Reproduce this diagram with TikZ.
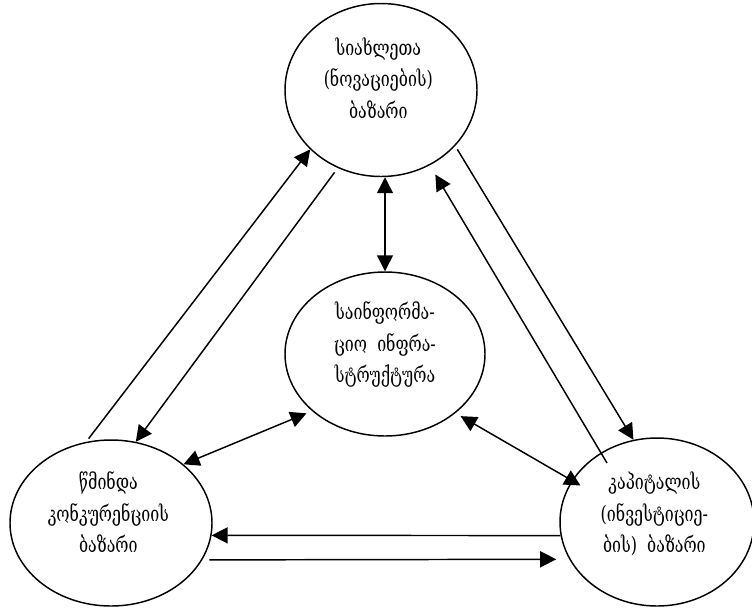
\documentclass[tikz,border=0pt]{standalone}
\usepackage{fontspec}
\setmainfont[FakeStretch=0.75]{DejaVu Serif}
\usetikzlibrary{shapes.geometric,arrows.meta}
\begin{document}
\begin{tikzpicture}[x=0.75pt,y=-0.75pt,
  market/.style={draw, line width=1.1pt, ellipse, inner sep=0pt},
  mtext/.style={align=center, inner sep=0pt, font=\fontsize{16}{23.5}\selectfont},
  arr/.style={line width=1.1pt, -{Triangle[length=12pt,width=12pt]}},
  dbl/.style={line width=1.1pt, {Triangle[length=12pt,width=12pt]}-{Triangle[length=12pt,width=12pt]}}]
\useasboundingbox (0,0) rectangle (752,608);

% the four markets
\node[market, minimum width=144pt, minimum height=129.75pt] (T) at (381,90) {};
\node[market, minimum width=150pt, minimum height=123pt] (C) at (385,354) {};
\node[market, minimum width=151.5pt, minimum height=124.5pt] (BL) at (111,523) {};
\node[market, minimum width=145.5pt, minimum height=126pt] (BR) at (657,522) {};

% their labels
\node[mtext] (Tt) at ([xshift=-2pt,yshift=9pt]T.center) {სიახლეთა\\(ნოვაციების)\\ბაზარი};
\node[mtext] (Ct) at ([yshift=7pt]C.center) {საინფორმა-\\ციო\ \ ინფრა-\\სტრუქტურა};
\node[mtext] (BLt) at ([xshift=-2pt,yshift=8pt]BL.center) {წმინდა\\კონკურენციის\\ბაზარი};
\node[mtext] (BRt) at ([xshift=-2pt,yshift=6pt]BR.center) {კაპიტალის\\(ინვესტიციე-\\ბის)\ \ ბაზარი};

% flows between the markets
\draw[arr, shorten <=3pt] (BL.107) -- (T.220);
\draw[arr, shorten <=4pt] (T.241) -- (BL.73);
\draw[dbl] (C.north |- T.south) -- (C.north);
\draw[arr, shorten <=3pt] (T.323) -- (BR.106);
\draw[arr, shorten <=-9pt, shorten >=8pt] (BR.129) -- (T.303);
\draw[dbl, shorten >=4.5pt] (BL.39) -- (C.218);
\draw[dbl, shorten <=4.5pt, shorten >=-7.5pt] (C.320) -- (BR.154);
\draw[arr] (BR.188) -- (BL.353);
\draw[arr, shorten <=5.25pt, shorten >=9.75pt] (BL.338) -- (BR.203);
\end{tikzpicture}
\end{document}
